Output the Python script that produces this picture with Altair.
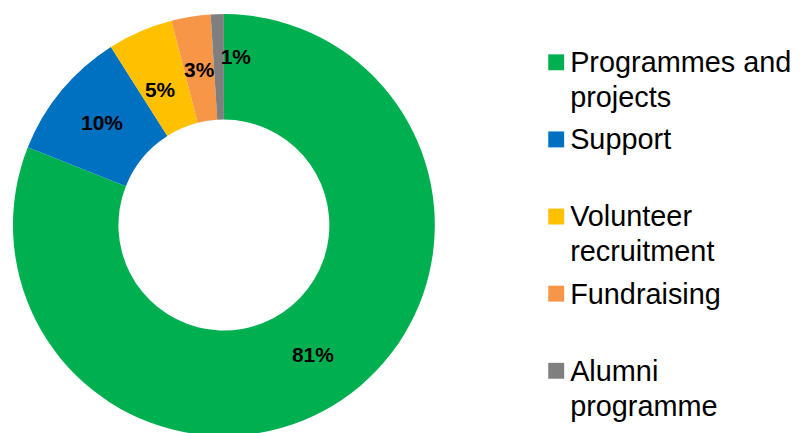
import altair as alt
import pandas as pd

categories = ["Programmes and projects", "Support", "Volunteer recruitment", "Fundraising", "Alumni programme"]
legend_labels = ["Programmes and\nprojects", "Support", "Volunteer\nrecruitment", "Fundraising", "Alumni\nprogramme"]
values = [81, 10, 5, 3, 1]
colors = ["#00B050", "#0070C0", "#FFC000", "#F79646", "#7F7F7F"]

df = pd.DataFrame({
    "category": categories,
    "legend": legend_labels,
    "value": values,
    "idx": list(range(len(categories))),
})
df["label"] = [f"{v}%" for v in values]

color = alt.Color("category:N", scale=alt.Scale(domain=categories, range=colors), legend=None)

arcs = alt.Chart(df).mark_arc(outerRadius=212, innerRadius=106, strokeWidth=0).encode(
    theta=alt.Theta("value:Q", stack=True),
    order=alt.Order("idx:Q", sort="ascending"),
    color=color,
)

lab_base = alt.Chart(df).transform_window(
    cum="sum(value)", sort=[alt.SortField("idx", order="ascending")]
).transform_calculate(
    mid="datum.cum - datum.value / 2"
).encode(
    theta=alt.Theta("mid:Q", stack=None, scale=alt.Scale(domain=[0, 100])),
    text="label:N",
)
txt = dict(radius=159, font="Liberation Sans", fontSize=21, fontWeight="bold", color="black")
lab_main = lab_base.transform_filter("datum.value >= 10").mark_text(**txt)
lab_5 = lab_base.transform_filter("datum.value == 5").mark_text(dx=-1, dy=11, **txt)
lab_3 = lab_base.transform_filter("datum.value == 3").mark_text(dx=0, dy=2, **txt)
lab_1 = lab_base.transform_filter("datum.value == 1").mark_text(dx=17, dy=-9, **txt)

pie = alt.layer(arcs, lab_main, lab_5, lab_3, lab_1).properties(width=434, height=434)

leg_base = alt.Chart(df).encode(
    y=alt.Y("category:N", sort=categories, scale=alt.Scale(type="point", padding=0.69), axis=None)
)
symbols = leg_base.mark_square(size=256, opacity=1).encode(x=alt.value(16), color=color)
texts = leg_base.mark_text(
    align="left", baseline="alphabetic", dy=10, font="Liberation Sans", fontSize=29,
    lineHeight=35, lineBreak="\n", color="black"
).encode(x=alt.value(30), text="legend:N")
legend = alt.layer(symbols, texts).properties(width=240, height=417)

chart = alt.hconcat(pie, legend, spacing=101).configure_view(stroke=None).properties(
    padding=0, background="white"
)
chart.save("out.html", embed_options={"renderer": "svg", "actions": False})
